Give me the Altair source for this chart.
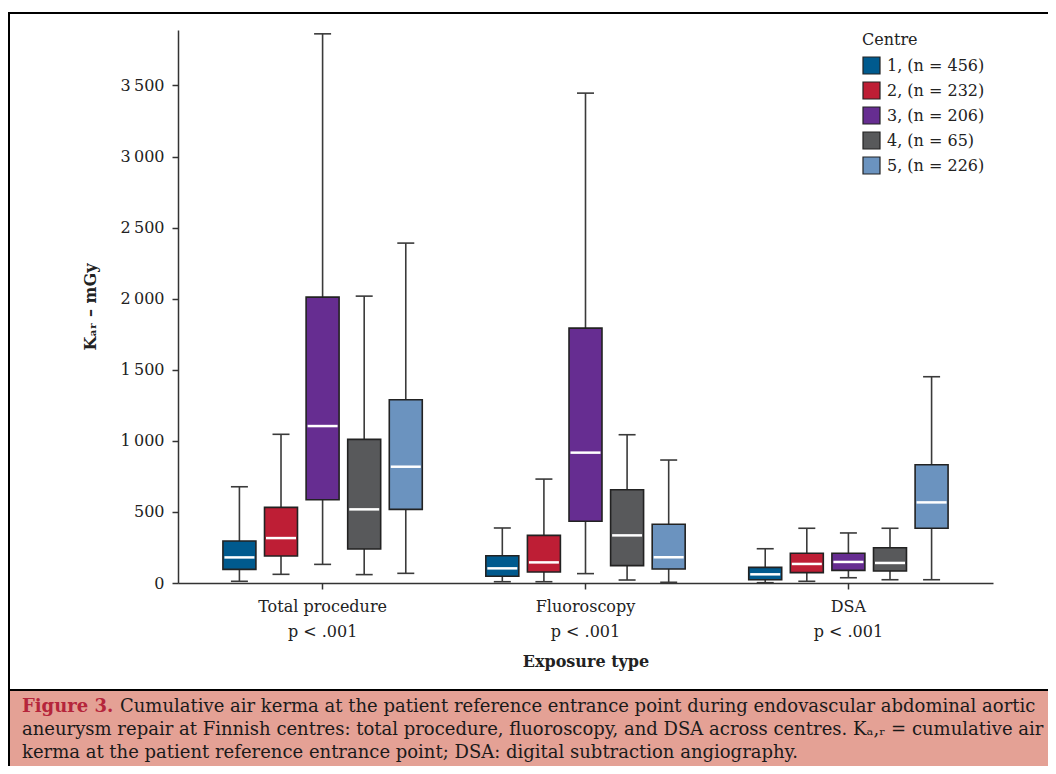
import altair as alt
import pandas as pd

# ---- data ----
exposure_types = ["Total procedure", "Fluoroscopy", "DSA"]
centres = ["1, (n = 456)", "2, (n = 232)", "3, (n = 206)", "4, (n = 65)", "5, (n = 226)"]
colors = ["#005a8e", "#be1e35", "#662d91", "#58595b", "#6b93bf"]

# order: for each exposure type, centres 1..5
mins = [12, 61, 131, 59, 68,
        9, 9, 66, 21, 5,
        2, 12, 37, 23, 23]
q1s = [96, 190, 586, 239, 518,
       47, 77, 434, 122, 98,
       23, 73, 89, 84, 385]
medians = [180, 316, 1104, 518, 818,
           103, 145, 917, 335, 181,
           61, 134, 148, 141, 567]
q3s = [295, 532, 2011, 1010, 1289,
       192, 335, 1793, 656, 413,
       110, 209, 209, 248, 832]
maxs = [677, 1046, 3863, 2018, 2391,
        387, 731, 3446, 1043, 865,
        241, 385, 352, 385, 1451]

y_ticks = [0, 500, 1000, 1500, 2000, 2500, 3000, 3500]
p_label = "p < .001"

caption_head = "Figure 3."
caption_lines = [
    "Cumulative air kerma at the patient reference entrance point during endovascular abdominal aortic",
    "aneurysm repair at Finnish centres: total procedure, fluoroscopy, and DSA across centres. K\u2090,\u1d63 = cumulative air",
    "kerma at the patient reference entrance point; DSA: digital subtraction angiography.",
]

rows = []
i = 0
for t in exposure_types:
    for c in centres:
        rows.append(dict(type=t, centre=c, min=mins[i], q1=q1s[i], median=medians[i],
                         q3=q3s[i], max=maxs[i]))
        i += 1
df = pd.DataFrame(rows)
one = pd.DataFrame({"k": [0]})

SERIF = "DejaVu Serif"
W, H = 815, 553

yscale = alt.Scale(domain=[0, 3890], nice=False, zero=True)

base = alt.Chart(df).encode(
    x=alt.X("type:N", sort=exposure_types,
            scale=alt.Scale(paddingInner=0, paddingOuter=0.05),
            axis=alt.Axis(title="Exposure type", labelAngle=0,
                          labelExpr=f"[datum.label, '{p_label}']",
                          labelLineHeight=25, labelPadding=9, tickSize=6,
                          titlePadding=14)),
    xOffset=alt.XOffset("centre:N", sort=centres,
                        scale=alt.Scale(paddingInner=0.207, paddingOuter=0.764)),
)

whisker = base.mark_rule(color="#3a3a3a", strokeWidth=1.6).encode(
    y=alt.Y("min:Q", scale=yscale,
            axis=alt.Axis(title="K\u2090\u1d63 \u2013 mGy", values=y_ticks,
                          labelExpr="replace(format(datum.value, ','), ',', '\u2009')",
                          tickSize=6, labelPadding=8, titlePadding=22)),
    y2="max:Q",
)

box = base.mark_bar(stroke="#222222", strokeWidth=1.6, opacity=1).encode(
    y=alt.Y("q1:Q", scale=yscale),
    y2="q3:Q",
    color=alt.Color("centre:N", sort=centres,
                    scale=alt.Scale(domain=centres, range=colors),
                    legend=alt.Legend(title="Centre", orient="none",
                                      legendX=684, legendY=2,
                                      symbolType="square", symbolSize=289,
                                      symbolStrokeColor="#222222", symbolStrokeWidth=1.2,
                                      symbolOpacity=1, labelOffset=6,
                                      rowPadding=2, titlePadding=8)),
)

median = base.mark_tick(color="white", size=30, thickness=2.5, opacity=1).encode(
    y=alt.Y("median:Q", scale=yscale))

cap_lo = base.mark_tick(color="#3a3a3a", size=17, thickness=1.6, opacity=1).encode(
    y=alt.Y("min:Q", scale=yscale))
cap_hi = base.mark_tick(color="#3a3a3a", size=17, thickness=1.6, opacity=1).encode(
    y=alt.Y("max:Q", scale=yscale))

frame = alt.Chart(one).mark_rect(fillOpacity=0, stroke="black", strokeWidth=2).encode(
    x=alt.value(-169), x2=alt.value(900), y=alt.value(-17), y2=alt.value(800))
cap_box = alt.Chart(one).mark_rect(fill="#e4a195", stroke="black", strokeWidth=2).encode(
    x=alt.value(-169), x2=alt.value(900), y=alt.value(660), y2=alt.value(800))

cap_head = alt.Chart(one).mark_text(align="left", baseline="alphabetic", font=SERIF,
                                    fontSize=18, fontWeight="bold", color="#b5253b").encode(
    x=alt.value(-156), y=alt.value(682), text=alt.value(caption_head))

cap_texts = []
xs = [-58, -156, -156]
ys = [682, 705, 728]
for line, xx, yy in zip(caption_lines, xs, ys):
    cap_texts.append(alt.Chart(one).mark_text(align="left", baseline="alphabetic", font=SERIF,
                                              fontSize=18, color="#1a1a1a").encode(
        x=alt.value(xx), y=alt.value(yy), text=alt.value(line)))

chart = alt.layer(frame, cap_box, whisker, box, median, cap_lo, cap_hi, cap_head, *cap_texts).properties(
    width=W, height=H,
    autosize=alt.AutoSizeParams(type="none"),
    padding={"left": 170, "top": 22, "right": 55, "bottom": 183},
    background="white",
).configure_view(stroke=None).configure_axis(
    labelFont=SERIF, titleFont=SERIF, labelFontSize=16, titleFontSize=16,
    labelColor="#222222", titleColor="#222222", domainColor="#333333",
    tickColor="#333333", domainWidth=1.5, tickWidth=1.5, grid=False,
    titleFontWeight="bold",
).configure_legend(
    labelFont=SERIF, titleFont=SERIF, labelFontSize=16, titleFontSize=16,
    titleFontWeight="normal", labelColor="#222222", titleColor="#222222",
)

chart.save("out.html", embed_options={"renderer": "svg", "actions": False})
